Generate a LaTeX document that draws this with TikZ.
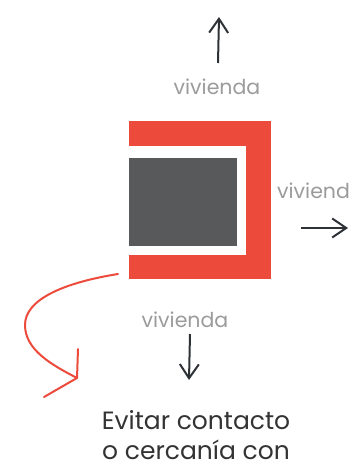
\documentclass[tikz,border=0pt]{standalone}
\usepackage{fontspec}
\setmainfont{Poppins}
\usepackage{tikz}
\usetikzlibrary{arrows.meta, positioning, calc}
\definecolor{alarm}{HTML}{EC4B3C}
\definecolor{house}{HTML}{58595B}
\definecolor{ink}{HTML}{2E3237}
\definecolor{muted}{HTML}{9B9B9B}
\definecolor{textdark}{HTML}{333333}
\tikzset{
  block/.style    = {rectangle, inner sep=0pt, outer sep=0pt},
  redblock/.style = {block, fill=alarm},
  gapblock/.style = {block, fill=white},
  homeblock/.style= {block, fill=house},
  away/.style     = {-{Straight Barb[length=14pt, width=19pt]}, draw=ink, line width=2pt},
  swerve/.style   = {draw=alarm, line width=2pt, line cap=round, line join=miter},
  label/.style    = {font=\fontsize{20.5}{24}\selectfont, text=muted, inner sep=0pt},
  caption/.style  = {font=\fontsize{25}{30}\selectfont, text=textdark, align=center, inner sep=0pt},
}
\begin{document}
\begin{tikzpicture}[x=1pt, y=-1pt]
  \useasboundingbox (0,0) rectangle (349,466);
  \clip (0,0) rectangle (349,466);

  % shield around the dwelling
  \node[redblock, minimum width=142pt, minimum height=158pt, anchor=north west] (shield) at (129,121) {};
  \node[gapblock, minimum width=117pt, minimum height=109pt, anchor=north west] (gap) at (129,146) {};
  \node[homeblock, minimum width=108pt, minimum height=88pt, anchor=north west] (home) at (129,158) {};

  \node[label] (uplabel) at (217,87) {vivienda};
  \node[label, anchor=west] (rightlabel) at (277,191) {vivienda};
  \node[label] (downlabel) at (185,320) {vivienda};

  \coordinate (upfrom) at (218,63);
  \coordinate (upto) at (219,17);
  \coordinate (rightfrom) at (301,228);
  \coordinate (rightto) at (348,228);
  \coordinate (downfrom) at (190,334);
  \coordinate (downto) at (189,380);

  \draw[away] (upfrom) -- (upto);
  \draw[away] (rightfrom) -- (rightto);
  \draw[away] (downfrom) -- (downto);

  % hand drawn detour
  \coordinate (turnfrom) at (118,274);
  \coordinate (turnleft) at (25,325);
  \coordinate (turntip) at (77,378);
  \coordinate (barbup) at (78,349);
  \coordinate (barbdown) at (44,397);
  \draw[swerve] (turnfrom) .. controls (62,283) and (25,300) .. (turnleft)
    .. controls (25,350) and (52,365) .. (turntip);
  \draw[swerve] (barbup) -- (turntip) -- (barbdown);

  \node[caption] (note) at (196,435) {Evitar contacto\\o cercanía con};
\end{tikzpicture}
\end{document}
